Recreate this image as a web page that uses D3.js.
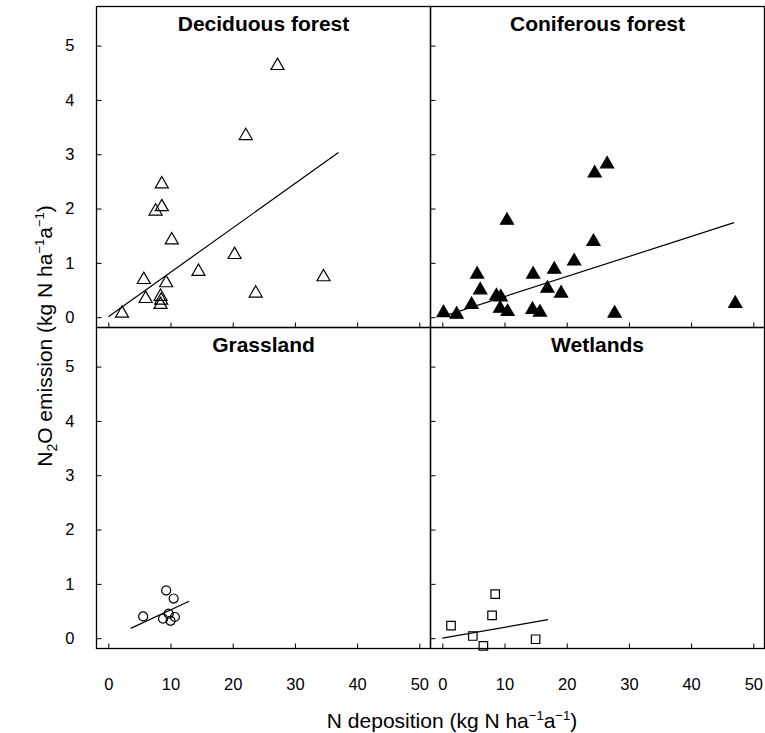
<!DOCTYPE html>
<html>
<head>
<meta charset="utf-8">
<script src="https://cdn.jsdelivr.net/npm/d3@7"></script>
<style>
  body { margin: 0; background: #fff; }
  text { font-family: "Liberation Sans", Arial, sans-serif; fill: #000; }
</style>
</head>
<body>
<div id="chart"></div>
<script>
// N deposition (x) and N2O emission (y)
var decidX = [27.2, 22.1, 8.6, 8.6, 7.6, 10.2, 20.3, 14.5, 34.6, 5.7, 9.3, 6.0, 8.4, 8.5, 8.4, 23.7, 2.2];
var decidY = [4.63, 3.34, 2.45, 2.03, 1.95, 1.42, 1.15, 0.84, 0.74, 0.69, 0.63, 0.34, 0.38, 0.31, 0.23, 0.44, 0.07];
var conifX = [26.5, 24.5, 10.4, 24.3, 21.2, 5.6, 14.6, 18.0, 6.1, 16.9, 19.1, 8.7, 9.4, 4.7, 9.3, 10.5, 14.5, 15.7, 0.2, 2.3, 27.7, 47.1];
var conifY = [2.82, 2.65, 1.78, 1.39, 1.03, 0.79, 0.79, 0.88, 0.50, 0.53, 0.44, 0.39, 0.37, 0.23, 0.16, 0.10, 0.14, 0.09, 0.08, 0.05, 0.07, 0.25];
var grassX = [9.3, 10.5, 5.6, 9.7, 8.8, 10.0, 10.7];
var grassY = [0.88, 0.73, 0.40, 0.45, 0.36, 0.32, 0.39];
var wetX = [8.5, 8.0, 1.4, 4.9, 6.6, 15.0];
var wetY = [0.81, 0.42, 0.23, 0.04, -0.14, -0.02];

// regression line end points
var decidFitX = [0, 37.0], decidFitY = [0.01, 3.03];
var conifFitX = [0, 46.9], conifFitY = [0.01, 1.74];
var grassFitX = [3.6, 13.0], grassFitY = [0.18, 0.68];
var wetFitX = [0, 17.0], wetFitY = [0.0, 0.34];

var xTicks = [0, 10, 20, 30, 40, 50];
var yTicks = [0, 1, 2, 3, 4, 5];

var panels = [
    { name: "Deciduous forest", xs: decidX, ys: decidY, fx: decidFitX, fy: decidFitY, sym: d3.symbolTriangle, size: 74, fill: "none", col: 0, row: 0 },
    { name: "Coniferous forest", xs: conifX, ys: conifY, fx: conifFitX, fy: conifFitY, sym: d3.symbolTriangle, size: 74, fill: "#000", col: 1, row: 0 },
    { name: "Grassland", xs: grassX, ys: grassY, fx: grassFitX, fy: grassFitY, sym: d3.symbolCircle, size: 64, fill: "none", col: 0, row: 1 },
    { name: "Wetlands", xs: wetX, ys: wetY, fx: wetFitX, fy: wetFitY, sym: d3.symbolSquare, size: 72, fill: "none", col: 1, row: 1 }
];

var W = 765, H = 733;
var mLeft = 96.5, mTop = 6.5;
var pw = 334, ph = 321;

var svg = d3.select("#chart").append("svg").attr("width", W).attr("height", H);

var x = d3.scaleLinear().domain([-1.9, 51.8]).range([0, pw]);
var y = d3.scaleLinear().domain([-0.19, 5.72]).range([ph, 0]);

panels.forEach(function (p) {
    var g = svg.append("g")
        .attr("transform", "translate(" + (mLeft + p.col * pw) + "," + (mTop + p.row * ph) + ")");

    // inward ticks, labels only on outer panels
    var xa = d3.axisBottom(x).tickValues(xTicks).tickFormat(d3.format("d"))
        .tickSizeInner(-5).tickSizeOuter(0).tickPadding(30);
    var ya = d3.axisLeft(y).tickValues(yTicks).tickFormat(d3.format("d"))
        .tickSizeInner(-5).tickSizeOuter(0).tickPadding(22);

    var gx = g.append("g").attr("transform", "translate(0," + ph + ")").call(xa);
    var gy = g.append("g").call(ya);
    [gx, gy].forEach(function (a) {
        a.select(".domain").remove();
        a.selectAll("line").attr("stroke", "#000").attr("stroke-width", 1);
        a.selectAll("text").style("font-size", "16.5px").style("font-family", "'Liberation Sans', Arial, sans-serif");
    });
    if (p.row === 0) gx.selectAll("text").remove();
    if (p.col === 1) gy.selectAll("text").remove();

    g.append("rect")
        .attr("width", pw).attr("height", ph)
        .attr("fill", "none").attr("stroke", "#000").attr("stroke-width", 1.3);

    g.append("text")
        .attr("x", pw / 2).attr("y", 24)
        .attr("text-anchor", "middle")
        .style("font-size", "21px").style("font-weight", "bold")
        .text(p.name);

    g.append("line")
        .attr("x1", x(p.fx[0])).attr("y1", y(p.fy[0]))
        .attr("x2", x(p.fx[1])).attr("y2", y(p.fy[1]))
        .attr("stroke", "#000").attr("stroke-width", 1.2);

    var sym = d3.symbol().type(p.sym).size(p.size);
    g.selectAll("path.pt")
        .data(p.xs.map(function (v, i) { return [v, p.ys[i]]; }))
        .enter().append("path")
        .attr("class", "pt")
        .attr("transform", function (d) { return "translate(" + x(d[0]) + "," + y(d[1]) + ")"; })
        .attr("d", sym)
        .attr("fill", p.fill)
        .attr("stroke", "#000").attr("stroke-width", 1.2);
});

// axis titles
var xt = svg.append("text")
    .attr("x", 452).attr("y", 728)
    .attr("text-anchor", "middle")
    .style("font-size", "21px");
xt.append("tspan").text("N deposition (kg N ha");
xt.append("tspan").attr("dy", -8).style("font-size", "13px").text("\u22121");
xt.append("tspan").attr("dy", 8).text("a");
xt.append("tspan").attr("dy", -8).style("font-size", "13px").text("\u22121");
xt.append("tspan").attr("dy", 8).text(")");

var yt = svg.append("text")
    .attr("transform", "translate(51.5,336) rotate(-90)")
    .attr("text-anchor", "middle")
    .style("font-size", "21px");
yt.append("tspan").text("N");
yt.append("tspan").attr("dy", 5).style("font-size", "14px").text("2");
yt.append("tspan").attr("dy", -5).text("O emission (kg N ha");
yt.append("tspan").attr("dy", -8).style("font-size", "13px").text("\u22121");
yt.append("tspan").attr("dy", 8).text("a");
yt.append("tspan").attr("dy", -8).style("font-size", "13px").text("\u22121");
yt.append("tspan").attr("dy", 8).text(")");
</script>
</body>
</html>
